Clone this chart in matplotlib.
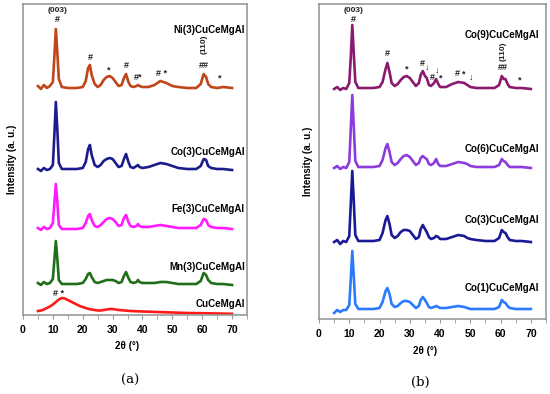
import matplotlib
matplotlib.use("Agg")
import matplotlib.pyplot as plt
from matplotlib.ticker import MultipleLocator

plt.rcParams['font.family'] = ['Liberation Sans', 'DejaVu Sans']

# ---------------- data (panel a) ----------------
x_a = [5, 6, 7, 8, 9, 10, 10.5, 11, 11.5, 12, 13, 15, 18, 20, 21, 21.8, 22.4, 23, 24, 25, 26, 27, 28, 29, 30,
       31, 32, 33, 33.8, 34.5, 35.3, 36, 37, 38, 38.5, 39, 40, 42, 44, 46, 48, 50, 52, 55, 58, 59.5, 60.5, 61.3,
       62, 63, 65, 67, 70]
ni3 = [229, 226, 230, 227, 229, 233, 258, 286, 262, 236, 228, 227, 227, 228, 234, 247, 250, 240, 231, 228, 230,
       235, 238, 239, 237, 233, 229, 230, 237, 241, 233, 229, 228, 229, 230, 229, 228, 228, 230, 234, 232, 229,
       228, 227, 227, 231, 241, 238, 231, 228, 227, 228, 227]
co3_a = [146, 144, 147, 145, 146, 150, 180, 213, 185, 152, 146, 146, 146, 147, 153, 166, 170, 160, 150, 148, 150,
         154, 156, 157, 156, 152, 148, 149, 156, 161, 153, 148, 147, 149, 150, 148, 147, 148, 150, 152, 151, 149,
         147, 146, 146, 149, 156, 155, 149, 147, 146, 146, 145]
fe3 = [87, 85, 88, 86, 87, 92, 112, 131, 113, 90, 86, 86, 86, 87, 92, 99, 101, 95, 89, 88, 90, 93, 96, 97, 96,
       93, 89, 90, 97, 100, 93, 89, 88, 89, 91, 89, 88, 88, 89, 90, 89, 88, 87, 87, 87, 90, 96, 95, 90, 88, 87,
       87, 86]
mn3 = [32, 30, 33, 31, 32, 36, 55, 74, 56, 35, 31, 31, 31, 32, 36, 41, 42, 38, 33, 32, 33, 34, 35, 35, 35, 34,
       32, 33, 39, 43, 37, 33, 32, 33, 35, 33, 32, 32, 32, 33, 33, 32, 31, 31, 31, 34, 42, 40, 35, 32, 31, 31, 30]
x_cu = [5, 6, 7, 8, 9, 10, 11, 12, 13, 14, 15, 16, 17, 18, 19, 20, 21, 22, 23, 24, 25, 26, 27, 28, 29, 30, 31,
        32, 34, 36, 40, 45, 50, 55, 60, 65, 70]
cucemgal = [4, 4.5, 5.5, 7, 8.5, 10.5, 13, 15.5, 17, 16.5, 15, 13.5, 12, 10.5, 9, 8, 7, 6, 5.5, 5, 4.5, 4.5, 5,
            5.5, 6, 6, 5.5, 5, 4.5, 4, 3.5, 3, 2.5, 2, 1.8, 1.5, 1.2]

# ---------------- data (panel b) ----------------
x_b = [5, 6, 7, 8, 9, 10, 10.5, 11, 11.5, 12, 13, 15, 18, 20, 21, 22, 22.6, 23.3, 24, 25, 26, 27, 28, 29, 30,
       31, 32, 33, 33.6, 34.3, 35, 35.6, 36.3, 37, 38, 38.7, 39.4, 40, 42, 44, 46, 48, 49, 50, 52, 55, 58, 59.5,
       60.4, 61, 61.6, 62.3, 63, 65, 67, 70]
co9 = [230, 232, 229, 231, 230, 236, 262, 294, 265, 237, 231, 231, 231, 232, 237, 250, 256, 247, 236, 233, 235,
       239, 242, 243, 241, 237, 233, 236, 244, 248, 243, 241, 234, 233, 236, 240, 235, 232, 232, 235, 237, 236,
       234, 232, 231, 231, 231, 234, 243, 240, 240, 235, 232, 231, 231, 230]
co6 = [151, 153, 150, 152, 151, 157, 190, 224, 192, 158, 152, 152, 152, 153, 159, 171, 175, 167, 157, 154, 156,
       160, 163, 164, 162, 158, 154, 156, 161, 163, 161, 160, 155, 154, 156, 160, 155, 153, 153, 155, 157, 156,
       155, 153, 152, 152, 152, 154, 160, 158, 157, 154, 152, 152, 152, 151]
co3_b = [77, 79, 75, 78, 77, 83, 115, 148, 117, 84, 78, 78, 78, 79, 86, 99, 103, 95, 84, 81, 83, 87, 89, 89, 88,
         84, 80, 82, 90, 94, 90, 87, 82, 80, 81, 83, 82, 80, 80, 82, 84, 83, 81, 80, 79, 78, 78, 81, 89, 87, 86,
         82, 79, 78, 78, 77]
co1 = [6, 9, 7, 9, 9, 14, 40, 68, 42, 15, 10, 10, 10, 11, 17, 28, 31, 25, 15, 12, 13, 16, 18, 18, 17, 14, 11, 13,
       19, 22, 19, 16, 12, 11, 12, 13, 12, 11, 11, 12, 13, 12, 11, 10, 10, 10, 10, 12, 19, 17, 16, 13, 11, 10, 10,
       10]

names_a = ["Ni(3)CuCeMgAl", "Co(3)CuCeMgAl", "Fe(3)CuCeMgAl", "Mn(3)CuCeMgAl", "CuCeMgAl"]
names_b = ["Co(9)CuCeMgAl", "Co(6)CuCeMgAl", "Co(3)CuCeMgAl", "Co(1)CuCeMgAl"]
xticks = [0, 10, 20, 30, 40, 50, 60, 70]

series_a = [(x_a, ni3, "#C0451A"), (x_a, co3_a, "#1C1C8C"), (x_a, fe3, "#FF1AFF"),
            (x_a, mn3, "#1E6E1A"), (x_cu, cucemgal, "#FF1A1A")]
series_b = [(x_b, co9, "#8A1A6E"), (x_b, co6, "#8C3CDC"), (x_b, co3_b, "#1A1A96"), (x_b, co1, "#2A7AFF")]

label_y_a = [285, 163, 106, 48, 11]
label_y_b = [284, 170, 99, 31]

ann_a = [(11.7, 304, "(003)", 0), (11.5, 295, "#", 0), (22.4, 257, "#", 0), (28.8, 245, "*", 0),
         (34.5, 250, "#", 0), (38.5, 238, "#*", 0), (46.5, 242, "# *", 0), (60.6, 271, "(110)", 90),
         (60.6, 249, "##", 0), (66, 237, "*", 0), (12.0, 21, "# *", 0)]
ann_b = [(11.3, 309, "(003)", 0), (11.3, 300, "#", 0), (22.6, 266, "#", 0), (28.9, 250, "*", 0),
         (34.0, 255, "#", 0), (35.8, 252, "\u2193", 0), (39.1, 249, "\u2193", 0), (37.5, 241, "#", 0),
         (40.1, 241, "*", 0), (45.8, 245, "#", 0), (47.8, 245, "*", 0), (50.4, 242, "\u2193", 0),
         (60.7, 268, "(110)", 90), (60.9, 251, "##", 0), (66.4, 239, "*", 0)]

fig = plt.figure(figsize=(5.5, 3.94), dpi=100)
ax_a = fig.add_axes([23 / 550, 1 - 315 / 394, 224 / 550, 311 / 394])
ax_b = fig.add_axes([319 / 550, 1 - 319 / 394, 227 / 550, 315 / 394])


def style(ax, ytop, xlabel_pad):
    ax.set_xlim(0, 75)
    ax.set_ylim(0, ytop)
    for s in ax.spines.values():
        s.set_color("#999999")
        s.set_linewidth(1.2)
    ax.set_xticks(xticks)
    ax.set_xticklabels([str(t) for t in xticks], fontsize=7.5, fontweight="bold")
    ax.xaxis.set_minor_locator(MultipleLocator(5))
    ax.tick_params(axis="x", which="both", direction="out", length=3, color="#999999", pad=4)
    ax.set_yticks([])
    ax.annotate("2\u03b8 (\u00b0)", xy=(35, xlabel_pad), xycoords=("data", "axes fraction"),
                ha="center", va="center", fontsize=7, fontweight="bold")


style(ax_a, 311, -0.1)
style(ax_b, 315, -0.1)
ax_a.set_ylabel("Intensity (a. u.)", fontsize=7, fontweight="bold", labelpad=4)
ax_b.set_ylabel("Intensity (a. u.)", fontsize=7, fontweight="bold", labelpad=4)

for (xs, ys, c), name, ly in zip(series_a, names_a, label_y_a):
    ax_a.plot(xs, ys, color=c, lw=1.9, solid_joinstyle="round")
    ax_a.text(74.3, ly, name, ha="right", va="center", fontsize=7, fontweight="bold")
for (xs, ys, c), name, ly in zip(series_b, names_b, label_y_b):
    ax_b.plot(xs, ys, color=c, lw=1.9, solid_joinstyle="round")
    ax_b.text(72.7, ly, name, ha="right", va="center", fontsize=7, fontweight="bold")

for ax, anns in ((ax_a, ann_a), (ax_b, ann_b)):
    for x, y, t, rot in anns:
        ax.text(x, y, t, ha="center", va="center", fontsize=6.5 if t not in ("(003)", "(110)") else 6,
                fontweight="bold", rotation=rot, color="#222222")

fig.text(130 / 550, 1 - 380 / 394, "(a)", ha="center", va="center", fontsize=9.5, family="DejaVu Serif")
fig.text(420 / 550, 1 - 382 / 394, "(b)", ha="center", va="center", fontsize=9.5, family="DejaVu Serif")

fig.savefig("out.png", dpi=100)
